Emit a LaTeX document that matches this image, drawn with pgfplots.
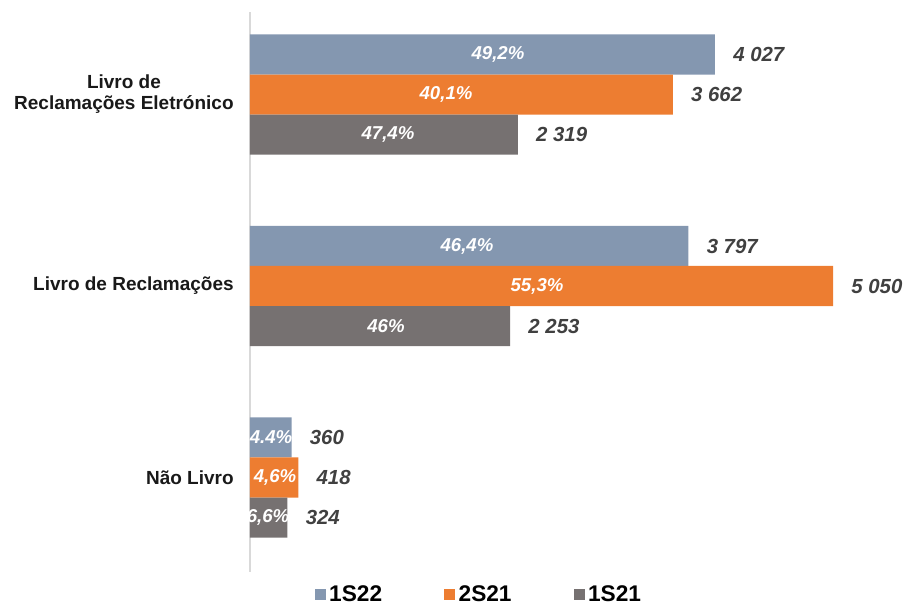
\documentclass[border=0pt]{standalone}
\usepackage{fontspec}
\setmainfont{Liberation Sans}
\usepackage{pgfplots}
\usepackage{pgfplotstable}
\pgfplotsset{compat=1.18}
\definecolor{cA}{HTML}{8497B0}
\definecolor{cB}{HTML}{ED7D31}
\definecolor{cC}{HTML}{767171}
\definecolor{vallbl}{HTML}{404040}
\definecolor{axisgray}{HTML}{D9D9D9}

% y: 0 = Nao Livro, 1 = Livro de Reclamacoes, 2 = Eletronico
% px = where the share label sits inside the bar
\pgfplotstableread{
y v n px p
2 4027 {4 027} 2148 {49,2\%}
1 3797 {3 797} 1879 {46,4\%}
0 360 {360} 182 {4.4\%}
}\tabA
\pgfplotstableread{
y v n px p
2 3662 {3 662} 1698 {40,1\%}
1 5050 {5 050} 2486 {55,3\%}
0 418 {418} 217 {4,6\%}
}\tabB
\pgfplotstableread{
y v n px p
2 2319 {2 319} 1195 {47,4\%}
1 2253 {2 253} 1178 {46\%}
0 324 {324} 156 {6,6\%}
}\tabC

\pgfplotsset{
  vals/.style={draw=none, mark=none, forget plot, nodes near coords,
    point meta=explicit symbolic, nodes near coords align=west,
    every node near coord/.append style={font=\bfseries\itshape\fontsize{11.6}{12}\selectfont,
      text=vallbl, inner sep=0pt, xshift=0.36cm}},
  pct/.style={draw=none, mark=none, forget plot, nodes near coords,
    point meta=explicit symbolic, nodes near coords align=center,
    every node near coord/.append style={font=\bfseries\itshape\fontsize{10.6}{11}\selectfont,
      text=white, inner sep=0pt}},
}

\begin{document}
\begin{tikzpicture}
\useasboundingbox (-5cm,-0.72cm) rectangle (13.16cm,11.44cm);
\begin{axis}[
  at={(0,0)}, anchor=south west,
  scale only axis, width=13.16cm, height=11.2cm,
  xmin=0, xmax=5699, ymin=-0.4935, ymax=2.431,
  axis x line=none, axis y line=left,
  axis line style={-, draw=axisgray, line width=1.5pt},
  ytick={0,1,2},
  yticklabels={Não Livro, Livro de Reclamações, {Livro de\\Reclamações Eletrónico}},
  major tick length=0pt,
  yticklabel style={font=\bfseries\fontsize{10.8}{11.9}\selectfont, align=center,
    inner sep=0pt, xshift=-0.32cm, text=black!90},
  clip=false,
  legend columns=3,
  legend style={at={(0.349,-0.041)}, anchor=center, draw=none, fill=none,
    font=\bfseries\fontsize{12.9}{14}\selectfont,
    /tikz/every even column/.append style={column sep=1.17cm}},
  legend image code/.code={\fill[#1] (0cm,-0.11cm) rectangle (0.22cm,0.11cm);},
]
\addplot[xbar, bar width=0.209, bar shift=0.209, fill=cA, draw=none]
  table[x=v, y=y] {\tabA};
\addlegendentry{1S22}
\addplot[xbar, bar width=0.209, bar shift=0, fill=cB, draw=none]
  table[x=v, y=y] {\tabB};
\addlegendentry{2S21}
\addplot[xbar, bar width=0.209, bar shift=-0.209, fill=cC, draw=none]
  table[x=v, y=y] {\tabC};
\addlegendentry{1S21}

\addplot[vals] table[x=v, y expr=\thisrow{y}+0.209, meta=n] {\tabA};
\addplot[vals] table[x=v, y=y, meta=n] {\tabB};
\addplot[vals] table[x=v, y expr=\thisrow{y}-0.209, meta=n] {\tabC};

\addplot[pct] table[x=px, y expr=\thisrow{y}+0.209, meta=p] {\tabA};
\addplot[pct] table[x=px, y=y, meta=p] {\tabB};
\addplot[pct] table[x=px, y expr=\thisrow{y}-0.209, meta=p] {\tabC};
\end{axis}
\end{tikzpicture}
\end{document}
